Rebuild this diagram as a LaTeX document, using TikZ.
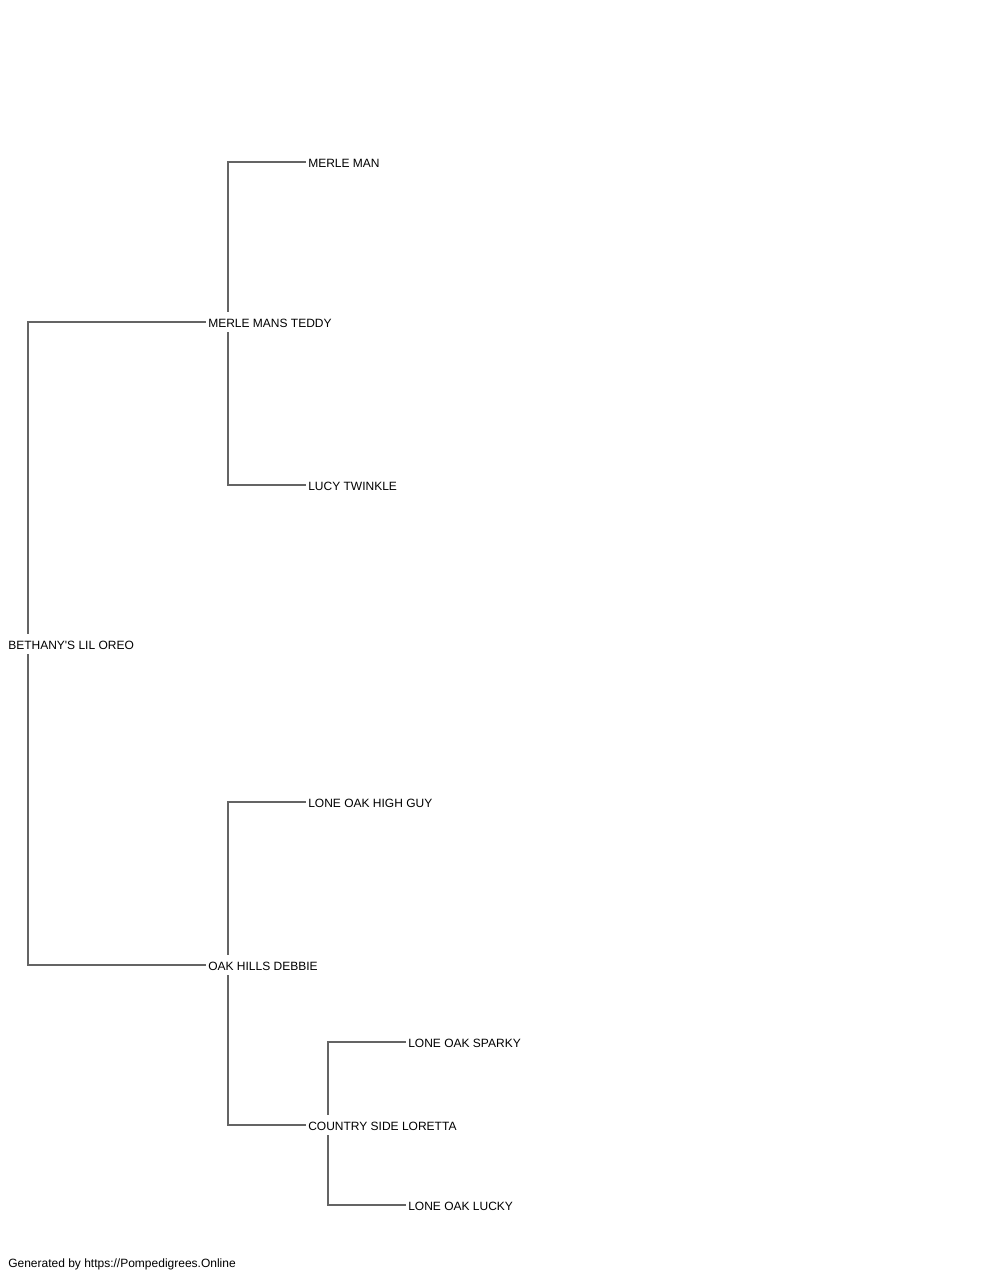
\documentclass[tikz,border=0pt]{standalone}
\usepackage{fontspec}
\setmainfont{Liberation Sans}
\usetikzlibrary{positioning}

\begin{document}
\begin{tikzpicture}[x=0.75pt, y=-0.75pt]

\tikzstyle{dog}=[anchor=west, inner xsep=1.5pt, inner ysep=0pt, minimum height=15pt, text height=8.7pt, text depth=0pt, font=\fontsize{9pt}{10pt}\selectfont]
\tikzstyle{link}=[draw={rgb,255:red,100;green,100;blue,100}, line width=0.8pt]

\useasboundingbox (0,0) rectangle (1000,1280);

% generation 1
\node[dog] (oreo) at (6,644) {BETHANY\textquotesingle S LIL OREO};

% generation 2
\node[dog] (teddy) at (206,322) {MERLE MANS TEDDY};
\node[dog] (debbie) at (206,965) {OAK HILLS DEBBIE};

% generation 3
\node[dog] (merleman) at (306,162) {MERLE MAN};
\node[dog] (lucy) at (306,485) {LUCY TWINKLE};
\node[dog] (highguy) at (306,802) {LONE OAK HIGH GUY};
\node[dog] (loretta) at (306,1125) {COUNTRY SIDE LORETTA};

% generation 4
\node[dog] (sparky) at (406,1042) {LONE OAK SPARKY};
\node[dog] (lucky) at (406,1205) {LONE OAK LUCKY};

\draw[link] ([xshift=16.5pt]oreo.north west) |- (teddy.west);
\draw[link] ([xshift=16.5pt]oreo.south west) |- (debbie.west);
\draw[link] ([xshift=16.5pt]teddy.north west) |- (merleman.west);
\draw[link] ([xshift=16.5pt]teddy.south west) |- (lucy.west);
\draw[link] ([xshift=16.5pt]debbie.north west) |- (highguy.west);
\draw[link] ([xshift=16.5pt]debbie.south west) |- (loretta.west);
\draw[link] ([xshift=16.5pt]loretta.north west) |- (sparky.west);
\draw[link] ([xshift=16.5pt]loretta.south west) |- (lucky.west);

\node[dog, text height=6.5pt, text depth=1.9pt] (footer) at (6,1264) {Generated by https://Pompedigrees.Online};

\end{tikzpicture}
\end{document}
